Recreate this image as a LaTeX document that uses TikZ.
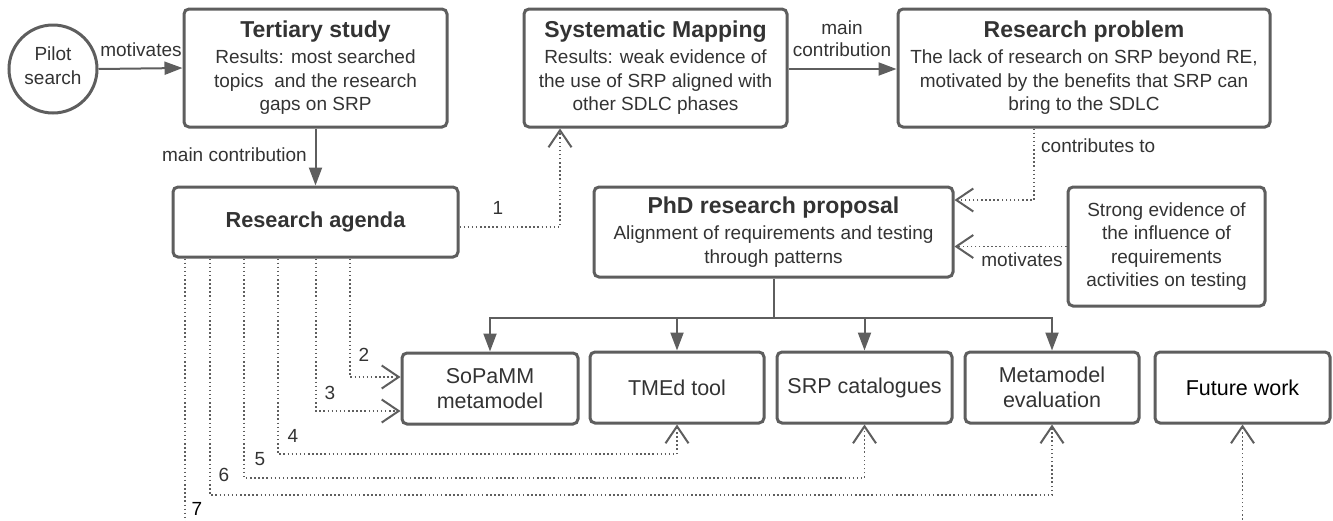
\documentclass[tikz,border=0pt]{standalone}
\usepackage{fontspec}
\setmainfont{Liberation Sans}
\usetikzlibrary{arrows.meta,calc}
\definecolor{edge}{HTML}{5E5E5E}
\definecolor{ink}{HTML}{333333}
\newcommand\diagbody{\fontsize{19}{23.5}\selectfont}
\newcommand\diagbig{\fontsize{21.5}{25}\selectfont}
\newcommand\diagtitle{\fontsize{23}{26}\selectfont\bfseries}

\begin{document}
\begin{tikzpicture}[x=1pt,y=-1pt,
  box/.style={draw=edge, line width=3pt, rounded corners=5pt, align=center,
    text=ink, font=\diagbody, inner sep=0pt},
  outbox/.style={box, font=\diagbig, minimum height=71},
  lbl/.style={text=ink, font=\diagbody, inner sep=0pt, align=center},
  solidarrow/.style={draw=edge, line width=2pt, -{Triangle[length=18pt,width=13pt]}},
  busline/.style={draw=edge, line width=2pt},
  dotline/.style={draw=edge, line width=1.6pt, dash pattern=on 1.5pt off 2.6pt,
    -{Straight Barb[length=17pt,width=23pt,line width=2pt]}}]

\useasboundingbox (0,0) rectangle (1333,520);
\clip (0,0) rectangle (1333,520);

% ---- top row ----
\node[draw=edge, line width=3pt, circle, minimum size=88, inner sep=0pt,
  align=center, text=ink, font=\diagbody] (pilot) at (53,69)
  {Pilot\\search\\[-17pt]\mbox{}};

\node[box, minimum width=263, minimum height=118] (tert) at (315.5,68)
  {{\diagtitle Tertiary study}\\[2.5pt] Results: most searched\\ topics\ \ and the research\\ gaps on SRP};

\node[box, minimum width=263, minimum height=118] (sm) at (655.5,68)
  {{\diagtitle Systematic Mapping}\\[2.5pt] Results: weak evidence of\\ the use of SRP aligned with\\ other SDLC phases};

\node[box, minimum width=372, minimum height=118] (rp) at (1084,68)
  {{\diagtitle Research problem}\\[2.5pt] The lack of research on SRP beyond RE,\\ motivated by the benefits that SRP can\\ bring to the SDLC};

% ---- middle row ----
\node[box, minimum width=285, minimum height=70] (agenda) at (315.5,222)
  {{\fontsize{21.7}{26}\selectfont\bfseries Research agenda}};

\node[box, minimum width=359, minimum height=90] (phd) at (773.5,232)
  {{\diagtitle PhD research proposal}\\[2.5pt] Alignment of requirements and testing\\ through patterns};

\node[box, minimum width=197, minimum height=119] (ev) at (1166.5,246.5)
  {Strong evidence of\\ the influence of\\ requirements\\ activities on testing};

% ---- bottom row ----
\node[outbox, minimum width=176] (sop) at (490,388.5) {SoPaMM\\ metamodel};
\node[outbox, minimum width=174] (tmed) at (677,387.5) {TMEd tool};
\node[outbox, minimum width=175] (srp) at (864.5,387.5) {SRP catalogues};
\node[outbox, minimum width=174] (meta) at (1052,387.5) {Metamodel\\ evaluation};
\node[outbox, minimum width=175, text=black] (fut) at (1242.5,387.5) {Future work};

% ---- solid connectors ----
\draw[solidarrow] (pilot.east) -- (tert.west);
\node[lbl] (lmot1) at (141,50) {motivates};

\draw[solidarrow] (tert.south) -- (agenda.north);
\node[lbl, anchor=east] (lmain1) at (307,155) {main contribution};

\draw[solidarrow] (sm.east |- 0,69) -- (rp.west |- 0,69);
\node[lbl, font=\fontsize{19}{22}\selectfont] (lmain2) at (842,39) {main\\contribution};

\coordinate (bus) at (phd.south |- 0,318);
\draw[busline] (phd.south) -- (bus);
\draw[solidarrow] (bus) -| (sop.north);
\draw[solidarrow] (bus) -| (tmed.north);
\draw[solidarrow] (bus) -| (srp.north);
\draw[solidarrow] (bus) -| (meta.north);

% ---- dotted connectors ----
\draw[dotline] (1034,0 |- rp.south) |- (phd.east |- 0,200);
\node[lbl, anchor=west] (lcontrib) at (1041,146) {contributes to};

\draw[dotline] (ev.west) -- (phd.east |- ev.west);
\node[lbl] (lmot2) at (1022,260) {motivates};

\draw[dotline] ($(agenda.east)+(0,5)$) -| (560,0 |- sm.south);
\node[lbl] (n1) at (498,208) {1};

\draw[dotline] (350,0 |- agenda.south) |- (sop.west |- 0,377);
\node[lbl] (n2) at (364,355) {2};

\draw[dotline] (316,0 |- agenda.south) |- (sop.west |- 0,411);
\node[lbl] (n3) at (330,393) {3};

\draw[dotline] (278,0 |- agenda.south) -- (278,454) -| (tmed.south);
\node[lbl] (n4) at (293,436) {4};

\draw[dotline] (244,0 |- agenda.south) -- (244,478) -| (srp.south);
\node[lbl] (n5) at (260,459) {5};

\draw[dotline] (210,0 |- agenda.south) -- (210,495) -| (meta.south);
\node[lbl] (n6) at (224,475) {6};

\draw[dotline] (185,0 |- agenda.south) -- (185,545) -| (fut.south);
\node[lbl, text=black] (n7) at (197,509) {7};

\end{tikzpicture}
\end{document}
